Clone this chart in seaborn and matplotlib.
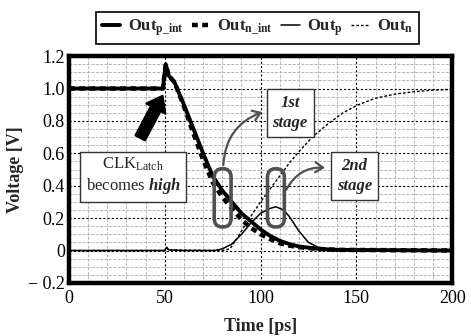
import matplotlib

matplotlib.use("Agg")

import matplotlib.pyplot as plt
import seaborn as sns
from matplotlib.patches import FancyBboxPatch
from matplotlib.ticker import MultipleLocator

# values
t_p_int = [0, 49, 50.5, 52, 55, 60, 65, 70, 75, 80, 85, 90, 95, 100, 105, 110, 115, 120, 130, 140, 200]
v_p_int = [1.0, 1.0, 1.15, 1.08, 1.04, 0.90, 0.75, 0.60, 0.46, 0.37, 0.30, 0.23, 0.18, 0.13, 0.09, 0.06, 0.04, 0.025, 0.01, 0.004, 0.0]

t_n_int = [0, 49, 50.5, 52, 55, 60, 65, 70, 75, 80, 85, 90, 95, 100, 105, 110, 115, 120, 130, 140, 200]
v_n_int = [1.0, 1.0, 1.15, 1.08, 1.04, 0.89, 0.72, 0.56, 0.42, 0.33, 0.26, 0.19, 0.14, 0.10, 0.07, 0.045, 0.03, 0.02, 0.01, 0.004, 0.0]

t_p = [0, 50, 51, 52, 60, 76, 80, 85, 90, 95, 100, 105, 108, 112, 115, 120, 125, 130, 135, 140, 200]
v_p = [0, 0, 0.02, 0.004, 0, 0, 0.01, 0.04, 0.10, 0.17, 0.23, 0.26, 0.27, 0.25, 0.21, 0.12, 0.05, 0.02, 0.01, 0.003, 0]

t_n = [0, 50, 51, 52, 80, 84, 88, 92, 96, 100, 105, 110, 115, 120, 127, 135, 143, 151, 160, 170, 180, 190, 200]
v_n = [0, 0, 0.02, 0.004, 0, 0.01, 0.08, 0.16, 0.23, 0.30, 0.38, 0.46, 0.54, 0.61, 0.70, 0.78, 0.85, 0.90, 0.94, 0.965, 0.98, 0.99, 0.995]

x_ticks = [0, 50, 100, 150, 200]
y_ticks = [-0.2, 0, 0.2, 0.4, 0.6, 0.8, 1.0, 1.2]
y_tick_labels = ["\u2212 0.2", "0", "0.2", "0.4", "0.6", "0.8", "1.0", "1.2"]

sns.set_theme(style="white")
plt.rcParams["font.family"] = ["Liberation Serif", "DejaVu Serif"]
plt.rcParams["mathtext.fontset"] = "custom"
plt.rcParams["mathtext.rm"] = "Liberation Serif"
plt.rcParams["mathtext.bf"] = "Liberation Serif:bold"
plt.rcParams["mathtext.it"] = "Liberation Serif:italic:bold"

fig = plt.figure(figsize=(4.71, 3.36), dpi=100)
ax = fig.add_axes([0.1465, 0.158, 0.8135, 0.675])

sns.lineplot(x=t_n, y=v_n, ax=ax, color="black", lw=1.0, linestyle=(0, (2.0, 1.4)), sort=False,
             label=r"$\mathbf{Out_{n}}$", zorder=3)
sns.lineplot(x=t_p, y=v_p, ax=ax, color="black", lw=1.1, sort=False,
             label=r"$\mathbf{Out_{p}}$", zorder=3)
sns.lineplot(x=t_n_int, y=v_n_int, ax=ax, color="black", lw=3.2, linestyle=(0, (1.3, 1.0)), sort=False,
             label=r"$\mathbf{Out_{n\_int}}$", zorder=4)
sns.lineplot(x=t_p_int, y=v_p_int, ax=ax, color="black", lw=2.8, sort=False,
             label=r"$\mathbf{Out_{p\_int}}$", zorder=5)

ax.set_xlim(0, 200)
ax.set_ylim(-0.2, 1.2)
ax.set_xticks(x_ticks)
ax.set_yticks(y_ticks)
ax.set_yticklabels(y_tick_labels)
ax.xaxis.set_minor_locator(MultipleLocator(10))
ax.yaxis.set_minor_locator(MultipleLocator(0.05))
ax.tick_params(which="both", length=0, labelsize=13, colors="black")
ax.tick_params(axis="x", pad=5)
ax.tick_params(axis="y", pad=3)
ax.grid(which="minor", color="#b5b5b5", lw=0.7, linestyle=(0, (3, 1.5)))
ax.grid(which="major", color="black", lw=0.8, linestyle=(0, (2, 1.8)))
ax.set_axisbelow(True)
for sp in ax.spines.values():
    sp.set_linewidth(3.2)
    sp.set_color("black")

ax.set_xlabel("Time [ps]", fontsize=13, fontweight="bold", labelpad=8)
ax.set_ylabel("Voltage [V]", fontsize=13, fontweight="bold")
ax.yaxis.set_label_coords(-0.118, 0.5)

handles, labels = ax.get_legend_handles_labels()
order = [3, 2, 1, 0]
leg = ax.legend([handles[i] for i in order], [labels[i] for i in order], ncol=4,
                loc="center", bbox_to_anchor=(0.547, 0.917), bbox_transform=fig.transFigure,
                frameon=True, fancybox=False, edgecolor="black", framealpha=1,
                fontsize=12, handlelength=1.1, handletextpad=0.45, columnspacing=0.5,
                borderpad=0.35, borderaxespad=0)
leg.get_frame().set_linewidth(1.2)

# big black arrow towards the clock edge
ax.annotate("", xy=(49.5, 0.97), xytext=(36.5, 0.68),
            arrowprops=dict(arrowstyle="simple,head_width=1.2,head_length=0.8,tail_width=0.6",
                            fc="black", ec="black", lw=1.5, mutation_scale=13, capstyle="round",
                            joinstyle="round"),
            zorder=6)

box = dict(boxstyle="square,pad=0.35", fc="white", ec="#333333", lw=1.0)
ax.text(33.4, 0.46, "CLK$_{\\mathrm{Latch}}$\nbecomes $\\mathit{high}$", ha="center", va="center",
        fontsize=12, bbox=box, zorder=7, linespacing=1.2)
ax.text(115.4, 0.85, "1st\nstage", ha="center", va="center", fontsize=12,
        fontweight="bold", style="italic", bbox=box, zorder=7, linespacing=1.35)
ax.text(149, 0.46, "2nd\nstage", ha="center", va="center", fontsize=12,
        fontweight="bold", style="italic", bbox=box, zorder=7, linespacing=1.35)

# loops marking the two stages (rounded ends corrected for the axes aspect)
gray = "#505050"
x_per_px = 200 / (ax.get_position().width * fig.get_figwidth() * fig.dpi)
y_per_px = 1.4 / (ax.get_position().height * fig.get_figheight() * fig.dpi)
aspect = y_per_px / x_per_px
for x0 in (75.8, 103.6):
    ax.add_patch(FancyBboxPatch((x0, 0.145), 8.8, 0.36,
                                boxstyle="round,pad=0,rounding_size=4.4",
                                mutation_aspect=aspect, fc="none", ec=gray, lw=2.6, zorder=6))

ax.annotate("", xy=(102.3, 0.86), xytext=(80.5, 0.51),
            arrowprops=dict(arrowstyle="->,head_width=0.3,head_length=0.45", color=gray, lw=1.6,
                            connectionstyle="arc3,rad=-0.35"), zorder=6)
ax.annotate("", xy=(135, 0.51), xytext=(112.8, 0.36),
            arrowprops=dict(arrowstyle="->,head_width=0.3,head_length=0.45", color=gray, lw=1.6,
                            connectionstyle="arc3,rad=-0.35"), zorder=6)

fig.savefig("out.png", dpi=100)
plt.close(fig)
